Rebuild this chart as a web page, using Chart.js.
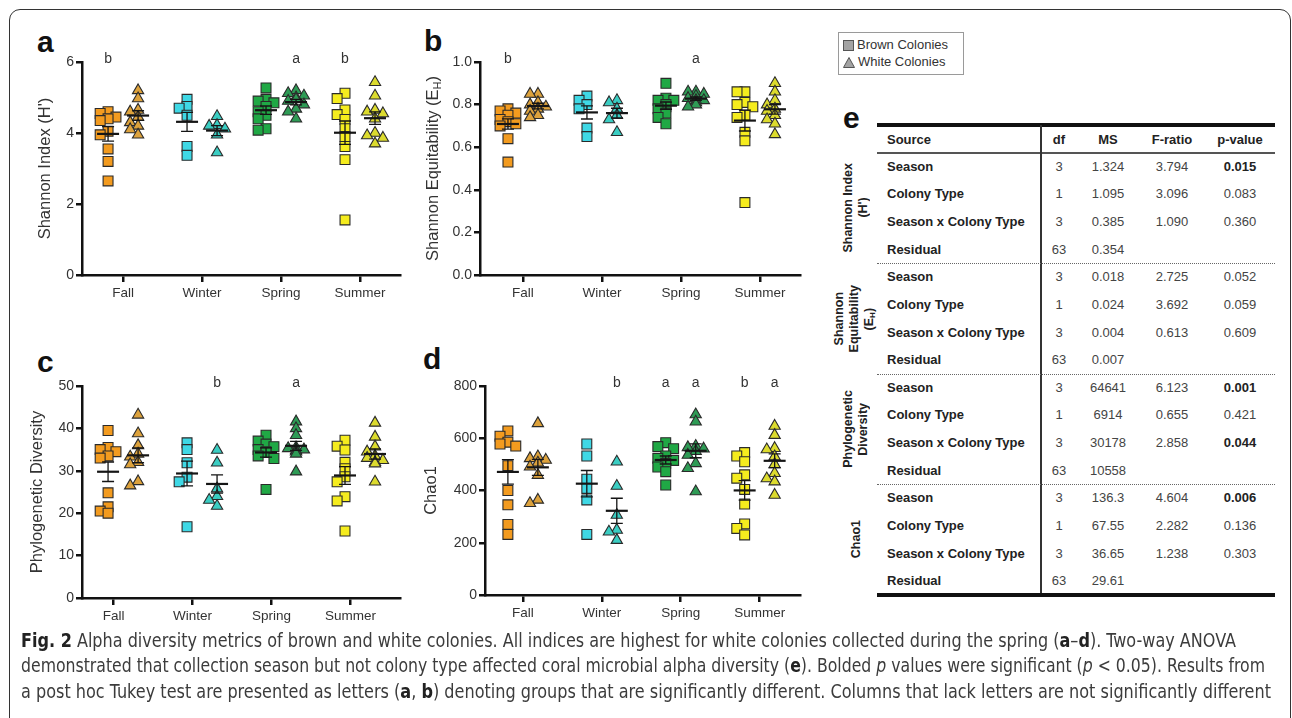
<!DOCTYPE html>
<html>
<head>
<meta charset="utf-8">
<script src="https://cdn.jsdelivr.net/npm/chart.js@4.4.1/dist/chart.umd.min.js"></script>
<style>
  body { margin:0; width:1292px; height:718px; overflow:hidden; background:#fff; position:relative;
         font-family:"Liberation Sans", Arial, sans-serif; }
  .frame { position:absolute; left:9px; top:9px; width:1280px; height:800px; border:1.6px solid #333; border-radius:11px; }
  .plab { position:absolute; font-weight:bold; font-size:30px; color:#111; line-height:30px; }
  canvas { position:absolute; }
  .legend { position:absolute; left:838px; top:32px; width:124px; height:41px; border:1px solid #9a9a9a; background:#fff;
            font-size:13px; color:#333; }
  .legend div { position:absolute; left:4px; height:16px; line-height:16px; white-space:nowrap; }
  .legend svg { vertical-align:-2px; margin-right:3px; }
  .tbl div { position:absolute; white-space:nowrap; }
  .cell { height:20px; line-height:20px; font-size:13px; color:#444; text-align:center; }
  .src { font-weight:bold; color:#222; }
  .hd { font-weight:bold; color:#222; }
  .b { font-weight:bold; color:#222; }
  .grp { writing-mode:vertical-rl; transform:rotate(180deg); font-weight:bold; font-size:12.5px; line-height:15px;
         color:#222; text-align:center; }
  .cap { position:absolute; left:21px; height:25px; line-height:25px; font-family:"Liberation Sans Narrow","DejaVu Sans Condensed",sans-serif;
         font-size:19.5px; color:#3c3c3c; white-space:nowrap; transform-origin:0 50%; }
  .cap b { color:#222; }
</style>
</head>
<body>
<div class="frame"></div>

<div class="plab" style="left:37px;top:27px">a</div>
<div class="plab" style="left:424px;top:26px">b</div>
<div class="plab" style="left:37px;top:347px">c</div>
<div class="plab" style="left:423px;top:344px">d</div>
<div class="plab" style="left:843px;top:103px">e</div>

<canvas id="chartA" width="388" height="265" style="left:20px;top:50px"></canvas>
<canvas id="chartB" width="390" height="265" style="left:418px;top:50px"></canvas>
<canvas id="chartC" width="388" height="264" style="left:20px;top:374px"></canvas>
<canvas id="chartD" width="385" height="261" style="left:423px;top:374px"></canvas>

<div class="legend">
  <div style="top:4px"><svg width="11" height="11"><rect x="0.5" y="0.5" width="10" height="10" fill="#a3a3a3" stroke="#555"/></svg>Brown Colonies</div>
  <div style="top:21px"><svg width="12" height="11"><polygon points="6,0.5 11.5,10.5 0.5,10.5" fill="#a3a3a3" stroke="#555"/></svg>White Colonies</div>
</div>

<div class="tbl" id="tbl"></div>

<div class="cap" id="cap1" style="top:628px"><b>Fig. 2</b> Alpha diversity metrics of brown and white colonies. All indices are highest for white colonies collected during the spring (<b>a</b>–<b>d</b>). Two-way ANOVA</div>
<div class="cap" id="cap2" style="top:653px">demonstrated that collection season but not colony type affected coral microbial alpha diversity (<b>e</b>). Bolded <i>p</i> values were significant (<i>p</i> &lt; 0.05). Results from</div>
<div class="cap" id="cap3" style="top:679px">a post hoc Tukey test are presented as letters (<b>a</b>, <b>b</b>) denoting groups that are significantly different. Columns that lack letters are not significantly different</div>

<script>
const seasons = ['Fall', 'Winter', 'Spring', 'Summer']

// Shannon index (H')
const shannonBrown = [
    [4.6, 4.55, 4.45, 4.4, 4.35, 4.05, 3.95, 3.55, 3.2, 2.65],
    [4.95, 4.75, 4.7, 4.5, 3.62, 3.37],
    [5.27, 4.95, 4.9, 4.85, 4.75, 4.6, 4.5, 4.4, 4.12, 4.08],
    [5.12, 4.97, 4.65, 4.52, 4.38, 4.12, 3.9, 3.62, 3.25, 1.55]
]
const shannonWhite = [
    [5.2, 4.97, 4.65, 4.6, 4.45, 4.3, 4.2, 4.1, 3.95],
    [4.47, 4.22, 4.2, 4.12, 3.95, 3.45],
    [5.2, 5.12, 5.05, 5.0, 4.95, 4.9, 4.8, 4.68, 4.6, 4.4],
    [5.43, 5.05, 4.65, 4.6, 4.55, 4.4, 4.0, 3.93, 3.86, 3.7]
]

// Shannon equitability (E_H)
const equitBrown = [
    [0.78, 0.77, 0.76, 0.75, 0.73, 0.72, 0.71, 0.70, 0.64, 0.53],
    [0.84, 0.82, 0.80, 0.78, 0.69, 0.65],
    [0.90, 0.83, 0.82, 0.82, 0.80, 0.79, 0.78, 0.76, 0.74, 0.71],
    [0.86, 0.86, 0.81, 0.80, 0.79, 0.75, 0.74, 0.67, 0.63, 0.34]
]
const equitWhite = [
    [0.85, 0.85, 0.81, 0.80, 0.79, 0.78, 0.77, 0.75, 0.74],
    [0.82, 0.81, 0.78, 0.75, 0.73, 0.67],
    [0.86, 0.86, 0.85, 0.84, 0.83, 0.82, 0.82, 0.81, 0.80, 0.79],
    [0.90, 0.86, 0.82, 0.80, 0.78, 0.77, 0.75, 0.73, 0.71, 0.66]
]

// Phylogenetic diversity
const pdBrown = [
    [39.5, 35.5, 35, 34.5, 33.5, 33, 24.8, 21.5, 20.5, 20],
    [36.6, 35, 31.9, 28.5, 27.4, 16.8],
    [38.4, 37, 36.3, 35.7, 35, 34.5, 34.3, 33.5, 32.9, 25.6],
    [37.2, 35.8, 34.9, 32, 30.5, 28.6, 27.4, 23.9, 22.9, 15.8]
]
const pdWhite = [
    [43.2, 38.8, 36, 34, 33.3, 32, 31.5, 27.5, 26.5],
    [34.9, 31.9, 25.8, 24, 23.1, 21.7],
    [41.6, 40, 38.4, 35.5, 35.3, 35, 34.8, 34.5, 34, 29.8],
    [41.3, 38, 35.7, 34.5, 33.5, 33, 32.5, 32, 31.7, 27.4]
]

// Chao1
const chaoBrown = [
    [628, 608, 585, 578, 570, 495, 400, 345, 270, 232],
    [578, 532, 443, 408, 364, 232],
    [583, 568, 560, 532, 523, 515, 504, 490, 472, 421],
    [545, 532, 510, 460, 447, 404, 348, 272, 255, 230]
]
const chaoWhite = [
    [657, 530, 523, 517, 506, 491, 459, 364, 351],
    [510, 417, 306, 249, 242, 210],
    [691, 663, 570, 565, 560, 550, 536, 504, 485, 396],
    [647, 612, 562, 557, 530, 500, 466, 446, 434, 383]
]

// Tukey letters per season
const lettersA = { brown: ['b', '', '', 'b'], white: ['', '', 'a', ''] }
const lettersB = { brown: ['b', '', '', ''], white: ['', '', 'a', ''] }
const lettersC = { brown: ['', '', '', ''], white: ['', 'b', 'a', ''] }
const lettersD = { brown: ['', '', 'a', 'b'], white: ['', 'b', 'a', 'a'] }

// ANOVA table (e)
const metricNames = ["Shannon Index<br>(H')", 'Shannon<br>Equitability<br>(E<sub style="font-size:8px">H</sub>)', 'Phylogenetic<br>Diversity', 'Chao1']
const sources = ['Season', 'Colony Type', 'Season x Colony Type', 'Residual']
const dfVals = ['3', '1', '3', '63']
const msVals = [
    ['1.324', '1.095', '0.385', '0.354'],
    ['0.018', '0.024', '0.004', '0.007'],
    ['64641', '6914', '30178', '10558'],
    ['136.3', '67.55', '36.65', '29.61']
]
const fVals = [
    ['3.794', '3.096', '1.090', ''],
    ['2.725', '3.692', '0.613', ''],
    ['6.123', '0.655', '2.858', ''],
    ['4.604', '2.282', '1.238', '']
]
const pVals = [
    ['0.015', '0.083', '0.360', ''],
    ['0.052', '0.059', '0.609', ''],
    ['0.001', '0.421', '0.044', ''],
    ['0.006', '0.136', '0.303', '']
]

const brownColors = ['#F39B1F', '#3FD8E5', '#20A845', '#F5EC1E']
const whiteColors = ['#DDA23C', '#3ACDC2', '#2E9B55', '#DCDB2E']
const FONT = '"Liberation Sans", Arial, sans-serif'

// spread overlapping points sideways a bit, like a dot plot
function spread(vals, tol){
    const order = vals.map((v, i) => i).sort((a, b) => vals[b] - vals[a])
    const placed = []
    const out = new Array(vals.length).fill(0)
    const cand = [0, -0.1, 0.1, -0.18, 0.18]
    order.forEach(i => {
        for (const c of cand){
            if (!placed.some(p => Math.abs(p.o - c) < 0.08 && Math.abs(p.v - vals[i]) < tol)){
                out[i] = c
                placed.push({o: c, v: vals[i]})
                return
            }
        }
        placed.push({o: 0, v: vals[i]})
    })
    return out
}

function buildDatasets(brown, white, yMax){
    const tol = yMax * 0.03
    const ds = []
    for (let i = 0; i < 4; i++){
        const groups = [
            {src: brown[i], off: -0.19, style: 'rect', col: brownColors[i], r: 7},
            {src: white[i], off: 0.19, style: 'triangle', col: whiteColors[i], r: 6.5}
        ]
        groups.forEach(g => {
            const jit = spread(g.src, tol)
            ds.push({
                center: i + 1 + g.off,
                data: g.src.map((v, j) => ({x: i + 1 + g.off + jit[j], y: v})),
                pointStyle: g.style,
                pointRadius: g.r,
                pointHoverRadius: g.r,
                backgroundColor: g.col,
                borderColor: '#2a2a2a',
                borderWidth: 1.1,
                showLine: false,
                clip: false
            })
        })
    }
    return ds
}

const meanSem = {
    id: 'meanSem',
    afterDatasetsDraw(chart){
        const {ctx, scales: {x, y}} = chart
        chart.data.datasets.forEach(ds => {
            const vals = ds.data.map(p => p.y)
            const n = vals.length
            const m = vals.reduce((a, b) => a + b, 0) / n
            const sd = Math.sqrt(vals.reduce((a, b) => a + (b - m) ** 2, 0) / (n - 1))
            const se = sd / Math.sqrt(n)
            const cx = x.getPixelForValue(ds.center)
            const ym = y.getPixelForValue(m), yt = y.getPixelForValue(m + se), yb = y.getPixelForValue(m - se)
            ctx.save()
            ctx.strokeStyle = '#151515'
            ctx.lineWidth = 1.3
            ctx.beginPath()
            ctx.moveTo(cx, yt); ctx.lineTo(cx, yb)
            ctx.moveTo(cx - 6, yt); ctx.lineTo(cx + 6, yt)
            ctx.moveTo(cx - 6, yb); ctx.lineTo(cx + 6, yb)
            ctx.stroke()
            ctx.lineWidth = 2.2
            ctx.beginPath()
            ctx.moveTo(cx - 11, ym); ctx.lineTo(cx + 11, ym)
            ctx.stroke()
            ctx.restore()
        })
    }
}

const letters = {
    id: 'letters',
    afterDraw(chart, args, opts){
        const {ctx, scales: {x}, chartArea} = chart
        ctx.save()
        ctx.font = '14px ' + FONT
        ctx.fillStyle = '#333'
        ctx.textAlign = 'center'
        ctx.textBaseline = 'alphabetic'
        for (let i = 0; i < 4; i++){
            if (opts.brown[i]) ctx.fillText(opts.brown[i], x.getPixelForValue(i + 0.81), chartArea.top + 1)
            if (opts.white[i]) ctx.fillText(opts.white[i], x.getPixelForValue(i + 1.19), chartArea.top + 1)
        }
        ctx.restore()
    }
}

const ytitle = {
    id: 'ytitle',
    afterDraw(chart, args, opts){
        const {ctx, chartArea} = chart
        const big = '16.5px ' + FONT, small = '11px ' + FONT
        ctx.save()
        ctx.translate(opts.x, (chartArea.top + chartArea.bottom) / 2)
        ctx.rotate(-Math.PI / 2)
        ctx.fillStyle = '#333'
        ctx.textBaseline = 'middle'
        ctx.font = big
        const w1 = ctx.measureText(opts.text).width
        const w3 = opts.tail ? ctx.measureText(opts.tail).width : 0
        ctx.font = small
        const w2 = opts.sub ? ctx.measureText(opts.sub).width : 0
        let px = -(w1 + w2 + w3) / 2
        ctx.textAlign = 'left'
        ctx.font = big
        ctx.fillText(opts.text, px, 0)
        px += w1
        if (opts.sub){
            ctx.font = small
            ctx.fillText(opts.sub, px, 5)
            px += w2
            ctx.font = big
            ctx.fillText(opts.tail, px, 0)
        }
        ctx.restore()
    }
}

function makePanel(id, brown, white, cfg){
    return new Chart(document.getElementById(id), {
        type: 'scatter',
        data: {datasets: buildDatasets(brown, white, cfg.yMax)},
        options: {
            responsive: false,
            animation: false,
            events: [],
            layout: {padding: {top: 12, right: cfg.right, left: 0, bottom: 0}},
            plugins: {
                legend: {display: false},
                tooltip: {enabled: false},
                letters: cfg.letters,
                ytitle: cfg.title
            },
            scales: {
                x: {
                    type: 'linear',
                    min: cfg.xMin,
                    max: cfg.xMax,
                    afterBuildTicks: s => { s.ticks = seasons.map((t, i) => ({value: i + 1 + cfg.tickShift})) },
                    afterFit: s => { s.height = 40 },
                    ticks: {
                        callback: (v, i) => seasons[i],
                        font: {family: FONT, size: 13.5},
                        color: '#333',
                        padding: 3,
                        maxRotation: 0
                    },
                    grid: {drawOnChartArea: false, drawTicks: true, tickLength: 7, color: '#111', lineWidth: 2.5},
                    border: {display: true, color: '#111', width: 2.5}
                },
                y: {
                    min: 0,
                    max: cfg.yMax,
                    afterFit: s => { s.width = 62 },
                    ticks: {
                        stepSize: cfg.yStep,
                        callback: v => v.toFixed(cfg.dec),
                        font: {family: FONT, size: 14},
                        color: '#333',
                        padding: 2
                    },
                    grid: {drawOnChartArea: false, drawTicks: true, tickLength: 6, color: '#111', lineWidth: 2.5},
                    border: {display: true, color: '#111', width: 2.5}
                }
            }
        },
        plugins: [meanSem, letters, ytitle]
    })
}

makePanel('chartA', shannonBrown, shannonWhite, {
    yMax: 6, yStep: 2, dec: 0, xMin: 0.48, xMax: 4.505, tickShift: 0, right: 8,
    letters: lettersA, title: {text: "Shannon Index (H')", x: 25}
})
makePanel('chartB', equitBrown, equitWhite, {
    yMax: 1, yStep: 0.2, dec: 1, xMin: 0.456, xMax: 4.506, tickShift: 0, right: 8,
    letters: lettersB, title: {text: 'Shannon Equitability (E', sub: 'H', tail: ')', x: 15}
})
makePanel('chartC', pdBrown, pdWhite, {
    yMax: 50, yStep: 10, dec: 0, xMin: 0.48, xMax: 4.505, tickShift: -0.12, right: 8,
    letters: lettersC, title: {text: 'Phylogenetic Diversity', x: 17}
})
makePanel('chartD', chaoBrown, chaoWhite, {
    yMax: 800, yStep: 200, dec: 0, xMin: 0.52, xMax: 4.51, tickShift: 0, right: 8,
    letters: lettersD, title: {text: 'Chao1', x: 8}
})

// table e
const tbl = document.getElementById('tbl')
let html = ''
const L = 877, R = 1275, VX = 1040
const colX = [1059, 1108, 1172, 1240]
const colW = [40, 60, 64, 70]
html += `<div style="left:${L}px;top:123px;width:${R - L}px;height:4px;background:#111"></div>`
html += `<div style="left:${L}px;top:152px;width:${R - L}px;height:1.5px;background:#555"></div>`
html += `<div style="left:${VX}px;top:125px;width:1.5px;height:471px;background:#333"></div>`
html += `<div style="left:${L}px;top:593px;width:${R - L}px;height:4px;background:#111"></div>`
html += `<div class="cell hd" style="left:887px;top:129.5px;text-align:left">Source</div>`
const heads = ['df', 'MS', 'F-ratio', 'p-value']
heads.forEach((h, c) => {
    html += `<div class="cell hd" style="left:${colX[c] - colW[c] / 2}px;width:${colW[c]}px;top:129.5px">${h}</div>`
})
for (let g = 0; g < 4; g++){
    const gTop = 153 + g * 110.5
    if (g > 0) html += `<div style="left:${L}px;top:${gTop - 0.5}px;width:${R - L}px;height:0;border-top:1.5px dotted #666"></div>`
    html += `<div style="left:836px;top:${gTop}px;width:40px;height:110px;display:flex;align-items:center;justify-content:center"><div class="grp" style="position:static">${metricNames[g]}</div></div>`
    for (let r = 0; r < 4; r++){
        const cy = gTop + 13.8 + r * 27.6 - 10
        const p = pVals[g][r]
        const sig = p !== '' && parseFloat(p) < 0.05
        const cells = [dfVals[r], msVals[g][r], fVals[g][r], p]
        html += `<div class="cell src" style="left:887px;top:${cy}px;text-align:left">${sources[r]}</div>`
        cells.forEach((t, c) => {
            const cls = (c === 3 && sig) ? 'cell b' : 'cell'
            html += `<div class="${cls}" style="left:${colX[c] - colW[c] / 2}px;width:${colW[c]}px;top:${cy}px">${t}</div>`
        })
    }
}
tbl.innerHTML = html

// fit caption lines to their widths in the figure
const capEnds = [1236, 1265, 1271]
;['cap1', 'cap2', 'cap3'].forEach((id, i) => {
    const el = document.getElementById(id)
    const w = el.getBoundingClientRect().width
    el.style.transform = `scaleX(${(capEnds[i] - 21) / w})`
})
</script>
</body>
</html>
